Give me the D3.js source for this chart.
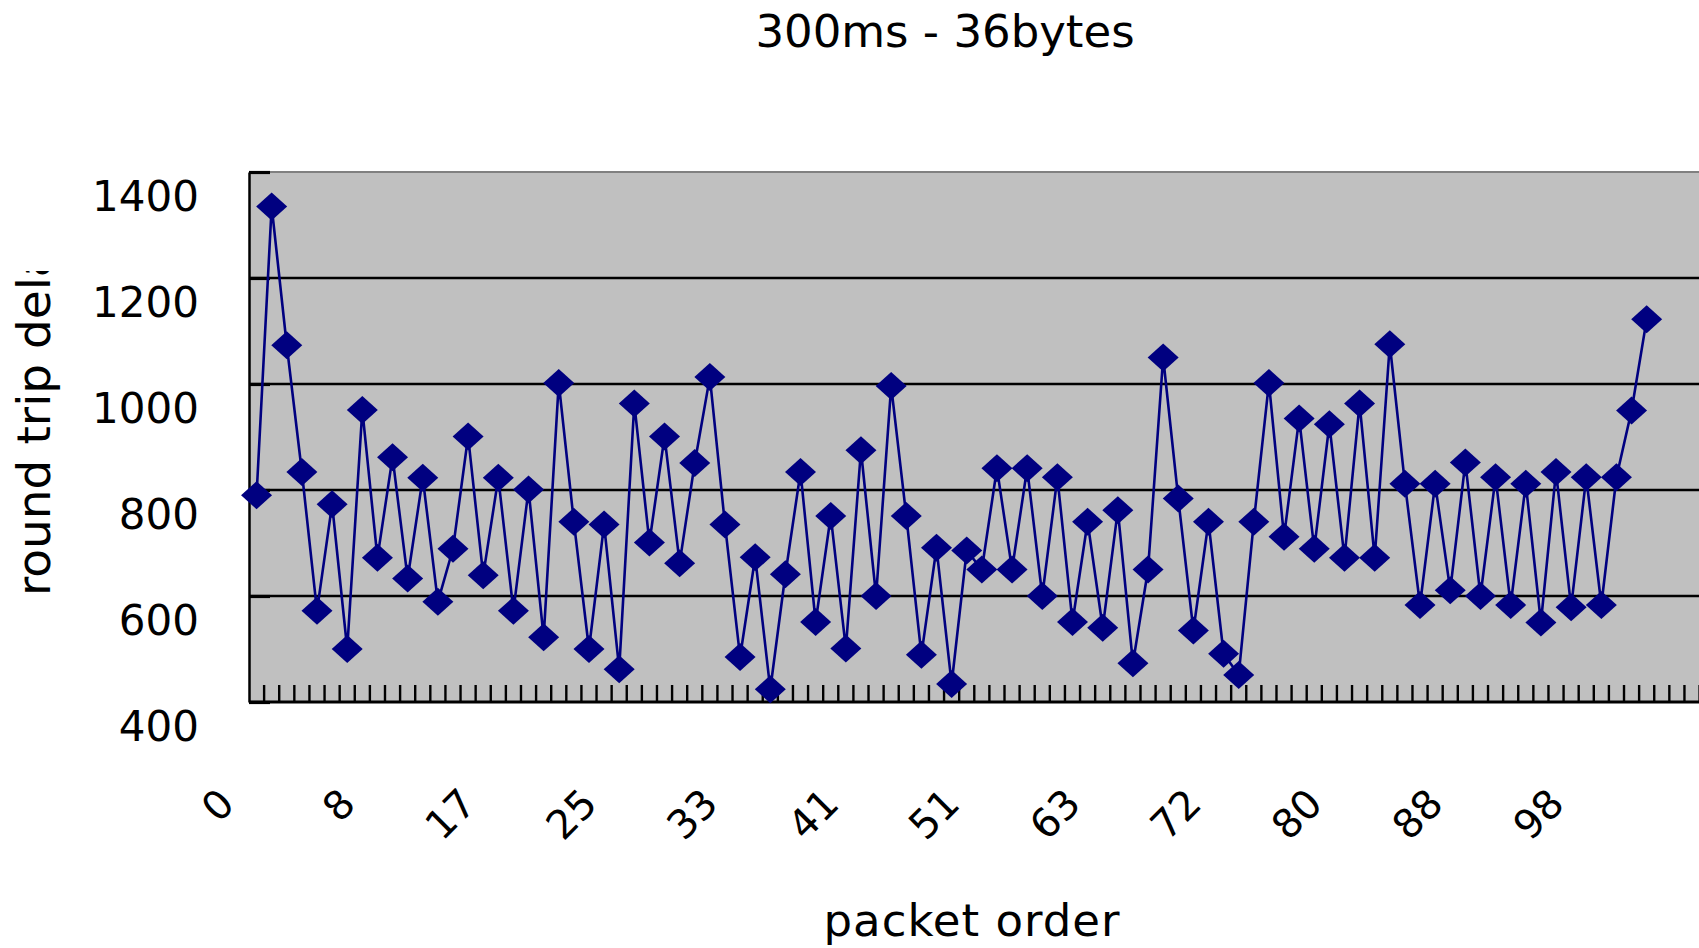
<!DOCTYPE html>
<html>
<head>
<meta charset="utf-8">
<script src="https://cdnjs.cloudflare.com/ajax/libs/d3/7.8.5/d3.min.js"></script>
<style>
body { margin: 0; background: #fff; }
svg { display: block; font-family: "DejaVu Sans", sans-serif; }
</style>
</head>
<body>
<div id="chart"></div>
<script>
// round trip delay per packet
var rtt = [790, 1335, 1073, 834, 572, 773, 500, 951, 672, 862,
           633, 823, 589, 689, 901, 639, 823, 572, 801, 522,
           1002, 740, 500, 735, 462, 963, 701, 901, 662, 851,
           1013, 735, 485, 673, 424, 641, 834, 551, 751, 501,
           875, 600, 996, 751, 489, 691, 434, 686, 650, 841,
           650, 841, 600, 824, 551, 740, 540, 762, 473, 650,
           1050, 784, 535, 740, 491, 451, 740, 1002, 712, 935,
           689, 924, 672, 963, 672, 1075, 812, 583, 812, 611,
           852, 600, 824, 583, 812, 550, 834, 579, 824, 583,
           824, 950, 1122];
var tickLabels = ['0', '8', '17', '25', '33', '41', '51', '63', '72', '80', '88', '98'];
var labelEvery = 8;
var yTicks = [400, 600, 800, 1000, 1200, 1400];

var W = 1699, H = 948;
var plotLeft = 249, plotTop = 172, plotBottom = 702;
var step = 15.11, slots = 97;   // plot runs off the right edge like the original

var svg = d3.select('#chart').append('svg').attr('width', W).attr('height', H);

var x = d3.scaleBand().domain(d3.range(slots)).range([plotLeft, plotLeft + slots * step]);
var y = d3.scaleLinear().domain([400, 1400]).range([plotBottom, plotTop]);
var plotRight = plotLeft + slots * step;

svg.append('rect').attr('x', plotLeft).attr('y', plotTop)
    .attr('width', plotRight - plotLeft).attr('height', plotBottom - plotTop)
    .style('fill', '#c0c0c0');
svg.append('line').attr('x1', plotLeft).attr('x2', plotRight).attr('y1', plotTop).attr('y2', plotTop)
    .style('stroke', '#808080').style('stroke-width', 2);

// gridlines
svg.append('g').selectAll('line').data(yTicks.slice(1, -1)).enter().append('line')
    .attr('x1', plotLeft).attr('x2', plotRight)
    .attr('y1', function(d) { return y(d); }).attr('y2', function(d) { return y(d); })
    .style('stroke', '#000').style('stroke-width', 2.4);

// y axis
var yAxis = svg.append('g').attr('transform', 'translate(' + plotLeft + ',0)')
    .call(d3.axisLeft(y).tickValues(yTicks).tickFormat(d3.format('d'))
        .tickSizeInner(-21).tickSizeOuter(0).tickPadding(50));
yAxis.select('.domain').style('stroke', '#000').style('stroke-width', 2.5);
yAxis.selectAll('.tick line').style('stroke', '#000').style('stroke-width', 3.2);
yAxis.selectAll('.tick text').attr('dy', null).attr('y', 38)
    .style('font-size', '42px').style('font-family', '"DejaVu Sans", sans-serif').style('fill', '#000');

// x axis: tick marks on category borders, labels every 8 packets
svg.append('g').selectAll('line').data(d3.range(1, slots)).enter().append('line')
    .attr('x1', function(d) { return x(d); }).attr('x2', function(d) { return x(d); })
    .attr('y1', plotBottom).attr('y2', plotBottom - 17)
    .style('stroke', '#000').style('stroke-width', 2.4);
svg.append('line').attr('x1', plotLeft).attr('x2', plotRight).attr('y1', plotBottom).attr('y2', plotBottom)
    .style('stroke', '#000').style('stroke-width', 3);

var xAxis = svg.append('g').attr('transform', 'translate(0,' + plotBottom + ')')
    .call(d3.axisBottom(x).tickValues(d3.range(0, tickLabels.length * labelEvery, labelEvery))
        .tickFormat(function(d) { return tickLabels[d / labelEvery]; }).tickSize(0));
xAxis.select('.domain').remove();
xAxis.selectAll('.tick text').attr('y', null).attr('dy', null)
    .attr('transform', 'translate(-20,104) rotate(-45)')
    .style('text-anchor', 'end').style('font-size', '40px')
    .style('font-family', '"DejaVu Sans", sans-serif').style('fill', '#000');

// series
var line = d3.line()
    .x(function(d, i) { return x(i) + x.bandwidth() / 2; })
    .y(function(d) { return y(d); });
svg.append('path').datum(rtt).attr('d', line)
    .style('fill', 'none').style('stroke', '#000080').style('stroke-width', 2.6);

svg.append('g').selectAll('path').data(rtt).enter().append('path')
    .attr('d', 'M0,-14L15.5,0L0,14L-15.5,0Z')
    .attr('transform', function(d, i) { return 'translate(' + (x(i) + x.bandwidth() / 2) + ',' + y(d) + ')'; })
    .style('fill', '#000080');

// titles
svg.append('text').attr('x', 945).attr('y', 47).attr('text-anchor', 'middle')
    .style('font-size', '45px').text('300ms - 36bytes');
svg.append('text').attr('x', 972).attr('y', 936).attr('text-anchor', 'middle')
    .style('font-size', '45px').style('letter-spacing', '1px').text('packet order');

// y title is cut off at the top in the original
svg.append('clipPath').attr('id', 'ytitle-clip').append('rect')
    .attr('x', 0).attr('y', 271).attr('width', plotLeft).attr('height', H - 271);
svg.append('g').attr('clip-path', 'url(#ytitle-clip)')
    .append('text')
    .attr('transform', 'translate(50,596) rotate(-90)')
    .style('font-size', '47px').text('round trip delay');
</script>
</body>
</html>
